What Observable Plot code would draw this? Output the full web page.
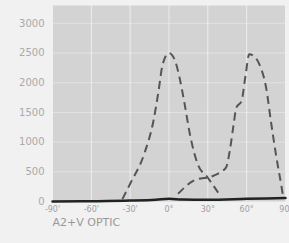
<!DOCTYPE html>
<html>
<head>
<meta charset="utf-8">
<script src="https://cdn.jsdelivr.net/npm/d3@7"></script>
<script src="https://cdn.jsdelivr.net/npm/@observablehq/plot@0.6"></script>
<style>
  html, body { margin: 0; padding: 0; background: #f1f1f1; }
  #chart { width: 289px; height: 243px; overflow: hidden; }
</style>
</head>
<body>
<div id="chart"></div>
<script>
// Series A (dashed, peak near 0°)
const seriesAAngle = [-36, -30, -19, -12, -8, -5, 0, 5, 8, 12, 16, 22, 30, 38];
const seriesAValue = [40, 300, 810, 1360, 1870, 2300, 2500, 2350, 2100, 1650, 1150, 640, 400, 150];
// Series B (dashed, peak near 60°)
const seriesBAngle = [7, 19, 35, 44, 47, 50, 52, 56, 59, 62, 66, 70, 75, 79, 83, 87, 88];
const seriesBValue = [130, 350, 440, 570, 860, 1310, 1580, 1690, 2100, 2480, 2440, 2300, 1920, 1310, 740, 240, 100];
// Series C (solid, near zero)
const seriesCAngle = [-90, -60, -30, -10, 0, 10, 30, 60, 90];
const seriesCValue = [0, 5, 15, 30, 45, 35, 30, 45, 60];

const xTicks = [-90, -60, -30, 0, 30, 60, 90];
const xTickLabels = ["-90'", "-60'", "-30'", "0°", "30°", "60°", "90"];
const yTicks = [0, 500, 1000, 1500, 2000, 2500, 3000];
const xTitle = "A2+V OPTIC";

const A = seriesAAngle.map((a, i) => ({angle: a, value: seriesAValue[i]}));
const B = seriesBAngle.map((a, i) => ({angle: a, value: seriesBValue[i]}));
const C = seriesCAngle.map((a, i) => ({angle: a, value: seriesCValue[i]}));
const lab = (d) => xTickLabels[xTicks.indexOf(d)];

const chart = Plot.plot({
  width: 289,
  height: 243,
  marginTop: 5,
  marginLeft: 52,
  marginRight: 4,
  marginBottom: 42,
  style: {background: "#f1f1f1", fontFamily: "DejaVu Sans"},
  x: {domain: [-90, 90]},
  y: {domain: [0, 3300]},
  marks: [
    Plot.frame({fill: "#d3d3d3", stroke: null}),
    Plot.gridX(xTicks, {stroke: "#f4f4f4", strokeOpacity: 0.8, strokeWidth: 1}),
    Plot.gridY(yTicks.slice(1), {stroke: "#f4f4f4", strokeOpacity: 0.45, strokeWidth: 1}),
    Plot.axisY(yTicks, {tickSize: 0, tickPadding: 8, fontSize: 10, fill: "#a9a9a9", label: null, tickFormat: (d) => String(d), style: "letter-spacing:0.8px"}),
    Plot.axisX(xTicks.slice(0, -1), {tickSize: 0, tickPadding: 5, fontSize: 8, fill: "#a0a0a0", label: null, tickFormat: lab}),
    Plot.axisX(xTicks.slice(-1), {tickSize: 0, tickPadding: 5, fontSize: 8, fill: "#a0a0a0", label: null, textAnchor: "end", dx: 4, tickFormat: lab}),
    Plot.line(A, {x: "angle", y: "value", curve: "monotone-x", stroke: "#555", strokeWidth: 2, strokeDasharray: "8,5", strokeLinecap: "butt"}),
    Plot.line(B, {x: "angle", y: "value", curve: "monotone-x", stroke: "#555", strokeWidth: 2, strokeDasharray: "8,5", strokeLinecap: "butt"}),
    Plot.line(C, {x: "angle", y: "value", curve: "monotone-x", stroke: "#222", strokeWidth: 2.5}),
    Plot.text([xTitle], {frameAnchor: "bottom-left", dy: 24, textAnchor: "start", fontSize: 11, fill: "#999", style: "letter-spacing:1.4px"})
  ]
});
document.getElementById("chart").appendChild(chart);
</script>
</body>
</html>
